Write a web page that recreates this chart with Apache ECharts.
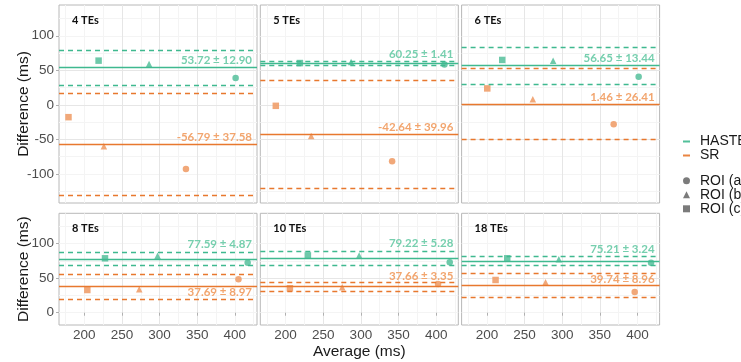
<!DOCTYPE html>
<html>
<head>
<meta charset="utf-8">
<script src="https://cdn.jsdelivr.net/npm/echarts@6/dist/echarts.min.js"></script>
<style>
html, body { margin: 0; padding: 0; background: #fff; }
#chart { width: 741px; height: 362px; }
</style>
</head>
<body>
<div id="chart"></div>
<script>
// one entry per panel, left to right, top row first
var panels = ['4 TEs', '5 TEs', '6 TEs', '8 TEs', '10 TEs', '18 TEs'];
var roiNames = ['ROI (a)', 'ROI (b)', 'ROI (c)'];
var roiShapes = ['circle', 'triangle', 'rect'];

// average / difference per ROI (a, b, c)
var hasteAvg = [[401, 286, 219], [411, 287, 219], [401.6, 288, 220.4], [417, 297.3, 227.5], [418, 297.7, 229.6], [418, 295.5, 227]];
var hasteDiff = [[39, 59, 64], [58.5, 62, 60.5], [40.6, 64, 65], [72.5, 82.6, 78.8], [73, 83, 83], [72.5, 77.4, 78.8]];
var srAvg = [[335, 226, 179], [341.5, 234, 187], [368.4, 261, 200.5], [404.8, 273, 204], [402.5, 275.2, 205.7], [396.3, 277.9, 211.5]];
var srDiff = [[-92.7, -60, -17.8], [-81.6, -45, -1.4], [-28, 8.3, 23.8], [48.4, 33.9, 32.9], [41.6, 36.8, 35.4], [30, 44, 47.4]];

// bias and SD (limits of agreement = mean +- 1.96 SD)
var hasteMean = [53.72, 60.25, 56.65, 77.59, 79.22, 75.21];
var hasteSD = [12.90, 1.41, 13.44, 4.87, 5.28, 3.24];
var srMean = [-56.79, -42.64, 1.46, 37.69, 37.66, 39.74];
var srSD = [37.58, 39.96, 26.41, 8.97, 3.35, 8.96];

var xTicks = [200, 250, 300, 350, 400];
var yTicks = [[-100, -50, 0, 50, 100], [0, 50, 100]];

// layout
var colLeft = [59, 260.3, 461.6];
var panelW = 198;
var rowTop = [5, 213.3];
var rowH = [198, 111.7];
var xRange = [166.4, 429.4];
var yRange = [[-142, 144.5], [-17.8, 144]];
// label gap from its line, px
var hasteLabelGap = [1, 3, 1.5, 8.5, 8.5, 5];
var srLabelGap = [1, 1, 1, 0, 4, 0];
var srLabelPos = ['insideEndTop', 'insideEndTop', 'insideEndTop', 'insideEndBottom', 'insideEndTop', 'insideEndTop'];

var colHasteLine = '#3fb98f', colSrLine = '#e8782e';
var colHastePt = '#5ec3a1', colSrPt = '#f09f6a';
var colHasteTxt = '#76cfae', colSrTxt = '#f2a56e';

var tickFont = 'Liberation Sans, Arial, sans-serif';
var boldFont = 'Lato, Open Sans, sans-serif';

var grids = [], xAxes = [], yAxes = [], titles = [], series = [];
var minorX = [], minorY = [];

function fmt(m, s) {
    return m.toFixed(2) + ' \u00b1 ' + s.toFixed(2);
}

function limitLines(mean, sd, color, labelColor, labelPos, gap) {
    return {
        silent: true,
        symbol: ['none', 'none'],
        animation: false,
        lineStyle: { color: color, width: 1.3 },
        data: [
            {
                yAxis: mean,
                lineStyle: { type: 'solid', color: color, width: 1.3 },
                label: {
                    show: true, position: labelPos, formatter: fmt(mean, sd),
                    color: labelColor, fontFamily: boldFont, fontWeight: 'bold', fontSize: 11.5,
                    distance: [5, gap]
                }
            },
            { yAxis: mean + 1.96 * sd, lineStyle: { type: [5, 4], color: color, width: 1.3 }, label: { show: false } },
            { yAxis: mean - 1.96 * sd, lineStyle: { type: [5, 4], color: color, width: 1.3 }, label: { show: false } }
        ]
    };
}

for (var i = 0; i < panels.length; i++) {
    var row = i < 3 ? 0 : 1;
    var col = i % 3;
    grids.push({
        left: colLeft[col], top: rowTop[row], width: panelW, height: rowH[row],
        show: true, borderColor: '#b8b8b8', borderWidth: 1, backgroundColor: 'transparent',
        outerBoundsMode: 'none'
    });
    titles.push({
        text: panels[i], left: colLeft[col] + 13, top: rowTop[row] + 10, padding: 0,
        textStyle: { fontFamily: boldFont, fontWeight: 'bold', fontSize: 11, color: '#111' }
    });
    xAxes.push({
        gridIndex: i, type: 'value', position: 'bottom', min: xRange[0], max: xRange[1],
        minInterval: 50, maxInterval: 50, z: 1,
        axisLine: { show: false },
        axisTick: { show: row === 1, length: 3, lineStyle: { color: '#b0b0b0' }, customValues: xTicks },
        axisLabel: { show: row === 1, customValues: xTicks, fontFamily: tickFont, fontSize: 13.5, color: '#4d4d4d', margin: 3 },
        splitLine: { show: true, showMinLine: false, showMaxLine: false, lineStyle: { color: '#e6e6e6', width: 1 } },
        name: i === 4 ? 'Average (ms)' : '', nameLocation: 'middle', nameGap: 19,
        nameTextStyle: { fontFamily: tickFont, fontSize: 15.5, color: '#1a1a1a' }
    });
    yAxes.push({
        gridIndex: i, type: 'value', position: 'left', min: yRange[row][0], max: yRange[row][1],
        minInterval: 50, maxInterval: 50, z: 1,
        axisLine: { show: false },
        axisTick: { show: col === 0, length: 3, lineStyle: { color: '#b0b0b0' }, customValues: yTicks[row] },
        axisLabel: { show: col === 0, customValues: yTicks[row], fontFamily: tickFont, fontSize: 13.5, color: '#4d4d4d', margin: 5 },
        splitLine: { show: true, showMinLine: false, showMaxLine: false, lineStyle: { color: '#e6e6e6', width: 1 } },
        name: col === 0 ? 'Difference (ms)' : '', nameLocation: 'middle', nameGap: 27, nameMoveOverlap: false,
        nameTextStyle: { fontFamily: tickFont, fontSize: 15.5, color: '#1a1a1a' }
    });
    // minor grid
    minorX.push({
        gridIndex: i, type: 'value', position: 'bottom', min: xRange[0], max: xRange[1], minInterval: 25, maxInterval: 25, z: 0,
        axisLine: { show: false }, axisTick: { show: false }, axisLabel: { show: false },
        splitLine: { show: true, showMinLine: false, showMaxLine: false, lineStyle: { color: '#f4f4f4', width: 1 } }
    });
    minorY.push({
        gridIndex: i, type: 'value', position: 'left', min: yRange[row][0], max: yRange[row][1], minInterval: 25, maxInterval: 25, z: 0,
        axisLine: { show: false }, axisTick: { show: false }, axisLabel: { show: false },
        splitLine: { show: true, showMinLine: false, showMaxLine: false, lineStyle: { color: '#f4f4f4', width: 1 } }
    });

    var hData = [], sData = [];
    for (var k = 0; k < roiNames.length; k++) {
        hData.push({ value: [hasteAvg[i][k], hasteDiff[i][k]], symbol: roiShapes[k] });
        sData.push({ value: [srAvg[i][k], srDiff[i][k]], symbol: roiShapes[k] });
    }
    series.push({
        name: 'HASTE', type: 'scatter', xAxisIndex: i, yAxisIndex: i,
        data: hData, symbolSize: 6.5, itemStyle: { color: colHastePt, opacity: 0.9 },
        markLine: limitLines(hasteMean[i], hasteSD[i], colHasteLine, colHasteTxt, 'insideEndTop', hasteLabelGap[i])
    });
    series.push({
        name: 'SR', type: 'scatter', xAxisIndex: i, yAxisIndex: i,
        data: sData, symbolSize: 6.5, itemStyle: { color: colSrPt, opacity: 0.9 },
        markLine: limitLines(srMean[i], srSD[i], colSrLine, colSrTxt, srLabelPos[i], srLabelGap[i])
    });
}

// empty series so the shape legend has entries
for (var r = 0; r < roiNames.length; r++) {
    series.push({
        name: roiNames[r], type: 'scatter', xAxisIndex: 0, yAxisIndex: 0,
        data: [], symbol: roiShapes[r], itemStyle: { color: '#5a5a5a' }
    });
}

// series point at the major axes, which come after the minor ones
series.forEach(function (s) {
    s.xAxisIndex += panels.length;
    s.yAxisIndex += panels.length;
});

var option = {
    animation: false,
    backgroundColor: '#fff',
    title: titles,
    grid: grids,
    xAxis: minorX.concat(xAxes),
    yAxis: minorY.concat(yAxes),
    legend: [
        {
            orient: 'vertical', left: 683, top: 134.5, padding: 0, itemGap: 0,
            itemWidth: 7, itemHeight: 2, selectedMode: false,
            textStyle: { fontFamily: tickFont, fontSize: 14, color: '#1a1a1a', lineHeight: 12, padding: [0, 0, 0, 5] },
            data: [
                { name: 'HASTE', icon: 'rect', itemStyle: { color: colHasteLine } },
                { name: 'SR', icon: 'rect', itemStyle: { color: colSrLine } }
            ]
        },
        {
            orient: 'vertical', left: 683, top: 173.8, padding: 0, itemGap: 0,
            itemWidth: 7, itemHeight: 7, selectedMode: false,
            textStyle: { fontFamily: tickFont, fontSize: 14, color: '#1a1a1a', lineHeight: 11.2, padding: [0, 0, 0, 5] },
            data: roiNames.map(function (n, k) { return { name: n, icon: roiShapes[k] }; })
        }
    ],
    series: series
};

var chart = echarts.init(document.getElementById('chart'), null, { renderer: 'canvas' });
chart.setOption(option);
</script>
</body>
</html>
